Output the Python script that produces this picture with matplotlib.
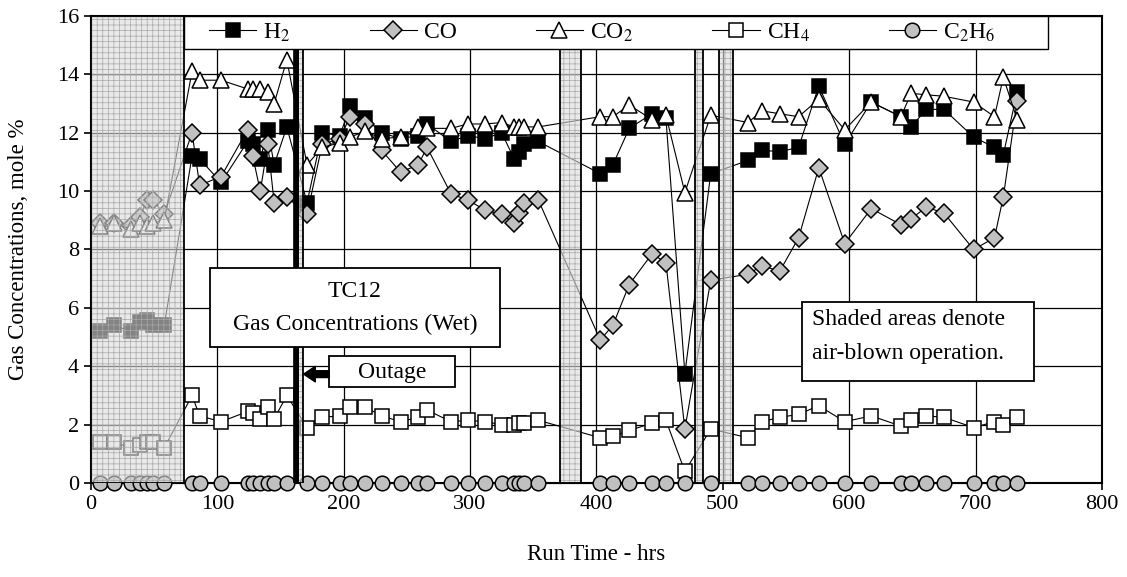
import matplotlib.pyplot as plt
from matplotlib.patches import Rectangle

plt.rcParams['font.family'] = ['Liberation Serif', 'DejaVu Serif']
plt.rcParams['mathtext.fontset'] = 'stix'
plt.rcParams['hatch.linewidth'] = 0.5

# run time of each gas sample, hrs
run_time = [7, 18, 32, 39, 44, 49, 58,
            80, 86, 103, 124, 128, 134, 140, 145, 155,
            171, 183, 197, 205, 217, 230, 245, 259, 266, 285, 298, 312, 325, 335, 339, 343, 354,
            403, 413, 426, 444, 455, 470, 490.5,
            520, 531, 545, 560, 576, 596.5, 617.5, 641, 649, 661, 675, 698.5, 715, 722, 733]

h2 = [5.2, 5.4, 5.2, 5.5, 5.6, 5.4, 5.4,
      11.2, 11.1, 10.3, 11.7, 11.6, 11.1, 12.1, 10.9, 12.2,
      9.6, 12.0, 11.9, 12.9, 12.5, 12.0, 11.8, 11.9, 12.3, 11.7, 11.9, 11.8, 12.0, 11.1, 11.35, 11.6, 11.7,
      10.6, 10.9, 12.15, 12.65, 12.5, 3.75, 10.6,
      11.05, 11.4, 11.35, 11.5, 13.6, 11.6, 13.05, 12.55, 12.2, 12.8, 12.8, 11.85, 11.5, 11.25, 13.4]

co = [8.9, 8.9, 8.8, 9.1, 9.7, 9.7, 9.2,
      12.0, 10.2, 10.5, 12.1, 11.2, 10.0, 11.6, 9.6, 9.8,
      9.2, 11.6, 11.8, 12.55, 12.3, 11.4, 10.65, 10.9, 11.5, 9.9, 9.7, 9.35, 9.2, 8.9, 9.25, 9.6, 9.7,
      4.9, 5.4, 6.8, 7.85, 7.55, 1.85, 6.95,
      7.15, 7.45, 7.25, 8.4, 10.8, 8.2, 9.4, 8.85, 9.05, 9.45, 9.25, 8.0, 8.4, 9.8, 13.1]

co2 = [8.8, 8.9, 8.7, 8.9, 8.8, 8.9, 9.0,
       14.1, 13.8, 13.8, 13.5, 13.5, 13.5, 13.4, 13.0, 14.5,
       10.9, 11.5, 11.65, 11.85, 12.05, 11.8, 11.85, 12.2, 12.15, 12.15, 12.3, 12.3, 12.35, 12.2, 12.2, 12.2, 12.2,
       12.55, 12.55, 12.95, 12.45, 12.6, 9.95, 12.6,
       12.35, 12.75, 12.65, 12.55, 13.15, 12.1, 13.05, 12.55, 13.35, 13.3, 13.25, 13.05, 12.55, 13.9, 12.45]

ch4 = [1.4, 1.4, 1.2, 1.3, 1.4, 1.4, 1.2,
       3.0, 2.3, 2.1, 2.45, 2.4, 2.2, 2.6, 2.2, 3.0,
       1.9, 2.25, 2.3, 2.6, 2.6, 2.3, 2.1, 2.25, 2.5, 2.1, 2.15, 2.1, 2.0, 2.0, 2.05, 2.05, 2.15,
       1.55, 1.6, 1.8, 2.05, 2.15, 0.4, 1.85,
       1.55, 2.1, 2.25, 2.35, 2.65, 2.1, 2.3, 1.95, 2.15, 2.3, 2.25, 1.9, 2.1, 2.0, 2.25]

c2h6 = [0, 0, 0, 0, 0, 0, 0,
        0, 0, 0, 0, 0, 0, 0, 0, 0,
        0, 0, 0, 0, 0, 0, 0, 0, 0, 0, 0, 0, 0, 0, 0, 0, 0,
        0, 0, 0, 0, 0, 0, 0,
        0, 0, 0, 0, 0, 0, 0, 0, 0, 0, 0, 0, 0, 0, 0]

# air-blown periods (start, end) in hrs
air_blown = [(0, 73.8), (163.5, 168), (371, 387.5), (478, 484.5), (497, 508)]
outage = (160, 163.5)

fig = plt.figure(figsize=(11.27, 5.77), dpi=100)
ax = fig.add_axes([0.0807, 0.1629, 0.897, 0.8094])

grey = '#c0c0c0'
series = [
    (h2, 's', 'black', 10, 'H$_2$'),
    (co, 'D', grey, 9, 'CO'),
    (co2, '^', 'white', 12, 'CO$_2$'),
    (ch4, 's', 'white', 10.5, 'CH$_4$'),
    (c2h6, 'o', grey, 10.5, 'C$_2$H$_6$'),
]
for vals, m, fc, ms, lab in series:
    ax.plot(run_time, vals, color='black', lw=0.8, marker=m, markersize=ms,
            markerfacecolor=fc, markeredgecolor='black', markeredgewidth=1.1,
            label=lab, zorder=3, clip_on=False)

# shaded (air-blown) areas drawn over the data
for x0, x1 in air_blown:
    ax.add_patch(Rectangle((x0, 0), x1 - x0, 16, facecolor=(0.86, 0.86, 0.86, 0.6),
                           edgecolor='#a8a8a8', lw=0, hatch='+++', zorder=4))
    ax.add_patch(Rectangle((x0, 0), x1 - x0, 16, fill=False, edgecolor='black',
                           lw=1.3, zorder=4))
ax.add_patch(Rectangle((outage[0], 0), outage[1] - outage[0], 16, facecolor='black',
                       edgecolor='black', lw=0.5, zorder=4))

ax.set_xlim(0, 800)
ax.set_ylim(0, 16)
ax.set_xticks(range(0, 801, 100))
ax.set_yticks(range(0, 17, 2))
ax.grid(True, color='black', lw=0.9)
ax.set_axisbelow(True)
ax.tick_params(labelsize=16, direction='out', length=5, width=1.2, color='black')
for s in ax.spines.values():
    s.set_linewidth(1.5)
ax.set_xlabel('Run Time - hrs', fontsize=16.5, labelpad=22)
ax.set_ylabel('Gas Concentrations, mole %', fontsize=16.5, labelpad=20)

# legend: white frame across the top, entries placed inside it
ax.add_patch(Rectangle((0.092, 0.929), 0.8546, 0.071, transform=ax.transAxes,
                       facecolor='white', edgecolor='black', lw=1.0, zorder=5, clip_on=False))
leg = ax.legend(loc='center left', bbox_to_anchor=(0.1167, 0.9645), ncol=5, fontsize=17,
                frameon=False, handlelength=2.0, handletextpad=0.3, columnspacing=3.35,
                borderaxespad=0, borderpad=0)
leg.set_zorder(6)

# text boxes
ax.add_patch(Rectangle((94.1, 4.66), 229.5, 2.71, facecolor='white', edgecolor='black',
                       lw=1.3, zorder=5))
ax.text(208.8, 6.55, 'TC12', fontsize=17, ha='center', va='center', zorder=6)
ax.text(208.8, 5.42, 'Gas Concentrations (Wet)', fontsize=17, ha='center', va='center', zorder=6)

ax.add_patch(Rectangle((188.5, 3.28), 99.7, 1.08, facecolor='white', edgecolor='black',
                       lw=1.3, zorder=5))
ax.text(238.3, 3.80, 'Outage', fontsize=17, ha='center', va='center', zorder=6)
ax.annotate('', xy=(168.3, 3.73), xytext=(188.5, 3.73), zorder=6,
            arrowprops=dict(arrowstyle='simple,head_length=0.6,head_width=0.8,tail_width=0.35',
                            fc='black', ec='black', mutation_scale=14, shrinkA=0, shrinkB=0))

ax.add_patch(Rectangle((563, 3.5), 183, 2.71, facecolor='white', edgecolor='black',
                       lw=1.3, zorder=5))
ax.text(571, 5.6, 'Shaded areas denote', fontsize=17, ha='left', va='center', zorder=6)
ax.text(571, 4.45, 'air-blown operation.', fontsize=17, ha='left', va='center', zorder=6)

fig.savefig('out.png', dpi=100)
